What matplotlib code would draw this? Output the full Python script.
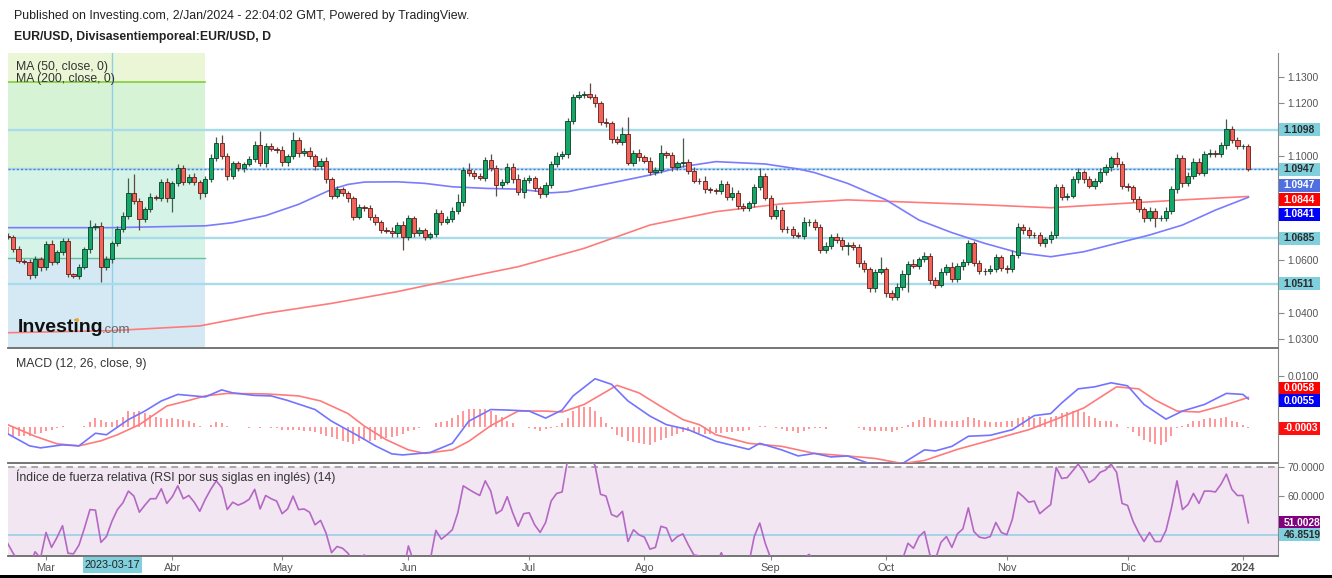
import numpy as np
import pandas as pd
import matplotlib
matplotlib.use('Agg')
import matplotlib.pyplot as plt
from matplotlib.patches import Rectangle, Ellipse

plt.rcParams['font.family'] = ['Liberation Sans', 'DejaVu Sans']

# ---------------- data ----------------
dates = pd.bdate_range('2023-02-20', '2024-01-02')
first_open = 1.0695
close = [
    1.0690, 1.0644, 1.0599, 1.0595, 1.0544, 1.0604, 1.0573, 1.0661, 1.0595, 1.0631,
    1.0675, 1.0547, 1.0540, 1.0576, 1.0642, 1.0729, 1.0731, 1.0573, 1.0604, 1.0665,
    1.0720, 1.0769, 1.0856, 1.0828, 1.0757, 1.0795, 1.0843, 1.0840, 1.0900, 1.0837,
    1.0894, 1.0951, 1.0900, 1.0920, 1.0898, 1.0858, 1.0909, 1.0990, 1.1047, 1.0998,
    1.0923, 1.0970, 1.0951, 1.0967, 1.0986, 1.1040, 1.0970, 1.1038, 1.1026, 1.1021,
    1.0974, 1.0998, 1.1060, 1.1009, 1.1018, 1.0998, 1.0960, 1.0979, 1.0909, 1.0847,
    1.0871, 1.0858, 1.0837, 1.0767, 1.0803, 1.0800, 1.0767, 1.0745, 1.0716, 1.0714,
    1.0703, 1.0735, 1.0688, 1.0761, 1.0703, 1.0716, 1.0691, 1.0700, 1.0782, 1.0748,
    1.0757, 1.0790, 1.0824, 1.0945, 1.0932, 1.0922, 1.0915, 1.0983, 1.0951, 1.0888,
    1.0900, 1.0958, 1.0909, 1.0862, 1.0907, 1.0913, 1.0875, 1.0853, 1.0888, 1.0968,
    1.1000, 1.1006, 1.1132, 1.1225, 1.1231, 1.1235, 1.1225, 1.1199, 1.1130, 1.1123,
    1.1062, 1.1053, 1.1082, 1.0973, 1.1011, 1.0993, 1.0981, 1.0939, 1.0945, 1.1009,
    1.1002, 1.0955, 1.0970, 1.0977, 1.0942, 1.0904, 1.0902, 1.0871, 1.0869, 1.0865,
    1.0890, 1.0843, 1.0859, 1.0808, 1.0799, 1.0818, 1.0879, 1.0922, 1.0839, 1.0771,
    1.0792, 1.0719, 1.0718, 1.0697, 1.0695, 1.0745, 1.0748, 1.0726, 1.0640, 1.0655,
    1.0688, 1.0678, 1.0655, 1.0660, 1.0652, 1.0589, 1.0566, 1.0493, 1.0557, 1.0566,
    1.0474, 1.0459, 1.0500, 1.0547, 1.0586, 1.0580, 1.0604, 1.0617, 1.0525, 1.0508,
    1.0557, 1.0573, 1.0528, 1.0579, 1.0595, 1.0665, 1.0589, 1.0561, 1.0560, 1.0566,
    1.0612, 1.0570, 1.0566, 1.0621, 1.0729, 1.0716, 1.0697, 1.0696, 1.0665, 1.0680,
    1.0697, 1.0879, 1.0843, 1.0847, 1.0909, 1.0936, 1.0909, 1.0885, 1.0904, 1.0939,
    1.0955, 1.0990, 1.0968, 1.0884, 1.0879, 1.0833, 1.0795, 1.0761, 1.0790, 1.0761,
    1.0761, 1.0790, 1.0871, 1.0990, 1.0894, 1.0922, 1.0977, 1.0935, 1.1006, 1.1011,
    1.1006, 1.1040, 1.1100, 1.1060, 1.1037, 1.1037, 1.0947,
]
upper_wick_pips = [
    10, 8, 12, 6, 10, 14, 10, 12, 15, 8,
    12, 10, 6, 10, 8, 25, 10, 15, 12, 10,
    12, 15, 57, 74, 12, 10, 14, 8, 12, 15,
    10, 18, 12, 10, 14, 10, 12, 15, 25, 31,
    12, 10, 8, 10, 12, 14, 55, 12, 10, 8,
    15, 10, 31, 12, 10, 14, 10, 12, 15, 10,
    12, 10, 8, 10, 12, 10, 10, 12, 8, 10,
    12, 10, 15, 14, 10, 12, 8, 10, 14, 10,
    12, 14, 30, 12, 25, 12, 10, 12, 25, 14,
    10, 12, 12, 21, 10, 12, 10, 8, 12, 10,
    12, 10, 10, 12, 14, 10, 41, 12, 10, 12,
    10, 12, 29, 67, 10, 14, 10, 12, 10, 31,
    10, 12, 10, 89, 10, 14, 10, 20, 10, 8,
    15, 12, 20, 10, 12, 10, 12, 29, 12, 10,
    20, 10, 12, 15, 12, 20, 10, 10, 12, 15,
    12, 18, 10, 10, 12, 10, 12, 10, 12, 48,
    10, 12, 14, 15, 12, 20, 10, 14, 12, 10,
    15, 12, 20, 10, 12, 12, 10, 12, 10, 15,
    12, 10, 14, 20, 12, 10, 12, 10, 14, 10,
    15, 12, 14, 10, 12, 15, 10, 12, 10, 14,
    12, 10, 25, 10, 12, 10, 12, 10, 14, 10,
    12, 14, 12, 15, 12, 14, 12, 15, 12, 14,
    10, 12, 40, 14, 10, 8, 8,
]
lower_wick_pips = [
    10, 12, 10, 8, 14, 10, 12, 10, 12, 10,
    10, 12, 8, 12, 10, 12, 12, 54, 10, 12,
    10, 12, 10, 12, 41, 10, 12, 8, 12, 15,
    51, 10, 12, 10, 12, 25, 15, 10, 12, 10,
    15, 12, 10, 12, 8, 12, 10, 14, 10, 12,
    14, 12, 10, 15, 12, 10, 14, 12, 15, 12,
    10, 12, 14, 12, 10, 12, 14, 10, 12, 10,
    14, 12, 48, 12, 14, 10, 12, 10, 12, 14,
    10, 12, 12, 16, 10, 12, 10, 12, 10, 43,
    12, 10, 14, 12, 25, 10, 12, 14, 10, 12,
    10, 12, 14, 12, 10, 12, 10, 14, 12, 12,
    14, 10, 12, 10, 14, 12, 10, 14, 12, 10,
    12, 14, 10, 12, 14, 10, 12, 15, 10, 12,
    10, 14, 12, 10, 12, 10, 14, 12, 10, 14,
    12, 10, 14, 12, 10, 12, 15, 10, 12, 10,
    12, 10, 14, 34, 12, 14, 10, 12, 14, 10,
    12, 10, 12, 14, 66, 10, 12, 10, 14, 12,
    10, 14, 12, 10, 14, 12, 10, 12, 14, 10,
    12, 10, 14, 10, 12, 14, 10, 12, 10, 12,
    14, 10, 12, 14, 10, 12, 14, 10, 12, 10,
    12, 14, 10, 12, 14, 10, 12, 14, 10, 32,
    12, 10, 14, 12, 14, 10, 12, 10, 14, 12,
    10, 12, 14, 10, 12, 10, 5,
]

# moving averages read at sample bars
ma50_idx = [0, 19, 36, 41, 47, 53, 59, 62, 65, 71, 76, 81, 87, 93, 99, 102, 105, 111, 117,
            123, 129, 132, 138, 144, 147, 153, 160, 166, 172, 178, 184, 190, 196, 202, 208,
            214, 220, 226]
ma50_val = [1.0725, 1.0725, 1.0732, 1.0744, 1.0771, 1.0814, 1.0871, 1.0890, 1.0899, 1.0900,
            1.0894, 1.0881, 1.0875, 1.0872, 1.0858, 1.0862, 1.0875, 1.0900, 1.0926, 1.0958,
            1.0977, 1.0974, 1.0968, 1.0949, 1.0935, 1.0894, 1.0831, 1.0754, 1.0706, 1.0665,
            1.0630, 1.0614, 1.0633, 1.0665, 1.0697, 1.0735, 1.0792, 1.0841]
ma200_idx = [0, 19, 35, 47, 59, 71, 81, 93, 105, 117, 129, 141, 153, 166, 178, 190, 202, 214, 226]
ma200_val = [1.0324, 1.0332, 1.0350, 1.0398, 1.0436, 1.0481, 1.0525, 1.0576, 1.0646, 1.0735,
             1.0786, 1.0816, 1.0831, 1.0821, 1.0812, 1.0801, 1.0816, 1.0831, 1.0844]

# MACD (values in 1e-4)
macd_idx = [0, 4, 6, 10, 13, 16, 18, 22, 25, 28, 31, 36, 39, 41, 45, 48, 51, 56, 59, 64, 67,
            70, 72, 77, 81, 84, 88, 91, 95, 98, 101, 103, 107, 110, 113, 117, 120, 124, 129,
            135, 137, 141, 144, 147, 150, 153, 157, 160, 163, 167, 169, 172, 175, 179, 183,
            187, 190, 192, 195, 198, 201, 204, 207, 211, 214, 218, 222, 225, 226]
macd_val = [-14, -38, -42, -36, -38, -13, -16, 14, 31, 51, 64, 59, 73, 67, 62, 61, 52, 34, 11,
            -19, -38, -54, -56, -51, -33, 11, 34, 33, 31, 17, 33, 61, 95, 84, 51, 21, 4, -6,
            -29, -45, -33, -46, -58, -53, -60, -58, -73, -73, -73, -46, -48, -39, -19, -17,
            -6, 22, 26, 47, 75, 79, 87, 81, 44, 15, 31, 44, 66, 64, 55]
signal_idx = [0, 5, 9, 13, 17, 20, 24, 29, 33, 36, 40, 47, 53, 57, 62, 65, 69, 73, 76, 81, 84,
              88, 93, 98, 101, 105, 111, 115, 119, 123, 126, 129, 135, 141, 147, 153, 158, 163,
              167, 173, 180, 186, 191, 196, 202, 206, 209, 213, 217, 222, 226]
signal_val = [4, -19, -34, -38, -28, -16, 4, 41, 52, 61, 66, 65, 61, 51, 26, 1, -26, -46, -53,
              -46, -29, 2, 31, 31, 29, 44, 82, 67, 40, 14, 4, -16, -33, -39, -53, -58, -63,
              -73, -67, -45, -24, -6, 15, 37, 79, 75, 53, 31, 29, 44, 58]
macd_hist = [
    -17, -18, -19, -19, -18, -15, -12, -9, -6, -3,
    1, 0, -1, 0, 2, 9, 17, 13, 9, 9,
    13, 20, 31, 29, 31, 27, 24, 20, 17, 15,
    17, 15, 13, 12, 7, 1, 0, 4, 9, 7,
    2, 0, 0, -1, -3, -1, -3, -1, -3, -3,
    -7, -7, -7, -7, -8, -9, -11, -15, -18, -21,
    -25, -28, -30, -35, -28, -27, -28, -27, -25, -23,
    -20, -18, -15, -9, -7, -3, 0, 0, 7, 9,
    12, 17, 24, 31, 35, 35, 35, 35, 31, 24,
    19, 12, 7, 0, -1, -3, -5, -8, -5, -3,
    2, 7, 17, 32, 42, 40, 39, 32, 19, 7,
    -5, -16, -21, -28, -31, -33, -35, -36, -31, -27,
    -23, -18, -15, -11, -9, -11, -13, -15, -15, -13,
    -13, -11, -11, -9, -8, -7, 0, 2, 2, 0,
    -3, -5, -8, -9, -13, -8, -5, -3, -3, -5,
    -1, 0, 0, -1, -1, -3, -7, -9, -9, -8,
    -9, -11, -7, -3, 4, 9, 13, 19, 17, 13,
    12, 12, 12, 11, 13, 19, 17, 13, 12, 9,
    9, 9, 12, 12, 17, 20, 22, 17, 19, 15,
    19, 22, 27, 29, 31, 31, 29, 22, 17, 12,
    11, 11, 5, 0, -3, -11, -18, -27, -31, -35,
    -36, -31, -18, -3, 2, 5, 12, 12, 15, 17,
    15, 17, 19, 12, 9, 4, -3,
]
rsi = [
    44.0, 40.6, 38.0, 38.5, 36.5, 41.1, 39.0, 47.7, 42.6, 46.0,
    50.0, 40.6, 40.4, 43.4, 49.2, 55.5, 55.3, 44.3, 46.3, 51.5,
    55.5, 57.8, 61.8, 60.1, 54.6, 57.0, 59.2, 59.2, 62.6, 57.6,
    59.9, 63.6, 59.2, 60.3, 58.0, 54.9, 59.0, 62.4, 65.3, 63.0,
    55.5, 58.0, 57.0, 57.8, 59.0, 62.4, 55.7, 60.3, 59.2, 58.4,
    54.1, 55.7, 60.1, 55.5, 55.7, 54.6, 50.3, 51.8, 47.5, 40.8,
    42.9, 42.3, 40.6, 37.5, 39.2, 40.0, 37.0, 35.5, 33.5, 33.5,
    33.0, 36.5, 33.5, 43.1, 37.5, 39.0, 37.0, 38.5, 48.4, 45.4,
    46.9, 48.6, 54.4, 63.6, 62.4, 61.3, 60.3, 65.3, 61.8, 54.1,
    55.3, 59.9, 54.4, 49.8, 54.1, 54.4, 50.3, 47.7, 51.1, 58.4,
    61.0, 61.5, 72.5, 77.5, 78.0, 77.5, 74.0, 70.5, 60.7, 60.1,
    53.8, 53.0, 54.9, 44.6, 48.6, 46.9, 46.1, 42.0, 42.6, 49.8,
    49.2, 44.6, 46.3, 47.2, 43.4, 40.0, 39.7, 37.0, 37.0, 36.5,
    40.8, 36.5, 38.5, 35.0, 34.5, 37.0, 46.3, 50.9, 44.0, 38.9,
    39.5, 35.0, 35.0, 33.5, 33.5, 39.0, 40.2, 38.0, 32.0, 33.5,
    37.0, 36.5, 35.0, 35.5, 35.0, 31.5, 30.5, 27.0, 34.0, 35.0,
    29.0, 28.5, 33.0, 38.5, 44.0, 42.3, 46.3, 48.0, 40.0, 38.5,
    44.3, 46.3, 42.6, 47.2, 48.9, 56.1, 48.0, 46.1, 45.7, 46.3,
    51.1, 47.7, 46.9, 52.1, 61.5, 59.9, 58.0, 58.4, 54.1, 55.7,
    57.2, 69.9, 66.1, 66.4, 68.7, 71.0, 68.4, 64.7, 65.9, 68.2,
    69.0, 71.0, 68.2, 57.6, 56.9, 51.5, 47.7, 44.6, 47.7, 44.6,
    44.6, 48.4, 56.1, 65.3, 55.5, 57.2, 61.0, 57.6, 61.8, 61.8,
    61.5, 64.1, 67.6, 62.4, 60.3, 60.3, 51.0,
]
month_labels = ['Mar', 'Abr', 'May', 'Jun', 'Jul', 'Ago', 'Sep', 'Oct', 'Nov', 'Dic', '2024']
hlines_price = [1.1098, 1.0947, 1.0685, 1.0511]
rsi_line_level = 46.8519

# ---------------- derived arrays ----------------
n = min(len(dates), len(close), len(upper_wick_pips), len(lower_wick_pips), len(rsi), len(macd_hist))
x = np.arange(n)
c = np.array(close[:n])
o = np.concatenate([[first_open], c[:-1]])
hi = np.maximum(o, c) + np.array(upper_wick_pips[:n]) * 1e-4
lo = np.minimum(o, c) - np.array(lower_wick_pips[:n]) * 1e-4
up = c >= o

d = dates[:n]
month_pos = [i for i in range(1, n) if d[i].month != d[i - 1].month]
cross_idx = list(d).index(pd.Timestamp('2023-03-17'))

# ---------------- figure ----------------
W, H = 1332, 578
fig = plt.figure(figsize=(W / 100, H / 100), dpi=100)
fig.patch.set_facecolor('white')

def add_ax(x0, y0, x1, y1):
    return fig.add_axes([x0 / W, 1 - y1 / H, (x1 - x0) / W, (y1 - y0) / H])

L, R = 8, 1278
axp = add_ax(L, 53, R, 348)
axm = add_ax(L, 348, R, 463)
axr = add_ax(L, 463, R, 556)

XL = (0.07, 231.4)
GRAY = '#555555'
for ax in (axp, axm, axr):
    ax.set_xlim(*XL)
    for s in ('top', 'left'):
        ax.spines[s].set_visible(False)
    ax.spines['right'].set_color('#8a8a8a')
    ax.spines['bottom'].set_color('#6a6a6a')
    ax.spines['bottom'].set_linewidth(1.3)
    ax.yaxis.tick_right()
    ax.tick_params(axis='y', direction='out', length=4, width=0.8, colors='#8a8a8a',
                   labelcolor=GRAY, labelsize=7.4, pad=3)
    ax.set_facecolor('none')

# ---- price panel ----
axp.set_ylim(1.02657, 1.13916)
shade_x1 = 35.95
bands = [(1.1281, 1.13916, '#eaf6d6'), (1.0947, 1.1281, '#d7f3d6'),
         (1.0609, 1.0947, '#d5f4e7'), (1.02657, 1.0609, '#d4e9f4')]
for y0, y1, col in bands:
    axp.add_patch(Rectangle((XL[0], y0), shade_x1 - XL[0], y1 - y0, facecolor=col,
                            edgecolor='none', zorder=0))
axp.plot([XL[0], shade_x1], [1.1281, 1.1281], color='#84cc3a', lw=1.2, zorder=1)
axp.plot([XL[0], shade_x1], [1.0609, 1.0609], color='#62c2a2', lw=1.0, zorder=1)
axp.axvline(cross_idx, color='#8fd0e6', lw=1.0, zorder=1)

for lvl in hlines_price:
    axp.axhline(lvl, color='#a8dcea', lw=1.7, zorder=1)
axp.axhline(c[-1], color='#5b78db', lw=1.0, ls=(0, (1.5, 1.5)), zorder=2)

axp.plot(ma200_idx, ma200_val, color='#ff7b7b', lw=1.2, zorder=2)
axp.plot(ma50_idx, ma50_val, color='#7b7bff', lw=1.2, zorder=2)

wick_col = np.where(up, '#3f5f4c', '#5e4a46')
axp.vlines(x, lo, hi, colors=wick_col, lw=0.9, zorder=3)
body_h = np.maximum(np.abs(c - o), 0.00012)
axp.bar(x[up], body_h[up], bottom=np.minimum(o, c)[up], width=0.78,
        color='#14a868', edgecolor='#0c3b24', linewidth=0.6, zorder=4)
axp.bar(x[~up], body_h[~up], bottom=np.minimum(o, c)[~up], width=0.78,
        color='#f2645a', edgecolor='#5e1b16', linewidth=0.6, zorder=4)

axp.set_yticks([1.03, 1.04, 1.06, 1.10, 1.12, 1.13])
axp.set_yticklabels(['1.0300', '1.0400', '1.0600', '1.1000', '1.1200', '1.1300'])
axp.set_yticks([1.1098, 1.0947, 1.0685, 1.0511], minor=True)
axp.tick_params(axis='y', which='minor', direction='out', length=4, width=0.8, colors='#8a8a8a')
axp.set_xticks([])

# ---- MACD panel ----
axm.set_ylim(-0.0072, 0.0156)
axm.vlines(x, 0, np.array(macd_hist[:n]) * 1e-4, colors='#ff7070', lw=1.2, alpha=0.85, zorder=2)
axm.plot(signal_idx, np.array(signal_val) * 1e-4, color='#ff7b7b', lw=1.2, zorder=3)
axm.plot(macd_idx, np.array(macd_val) * 1e-4, color='#7373ff', lw=1.2, zorder=3)
axm.set_yticks([0.01])
axm.set_yticklabels(['0.0100'])
axm.set_xticks([])

# ---- RSI panel ----
axr.set_ylim(39.66, 71.38)
axr.axhspan(30, 70, color='#f2e6f2', zorder=0)
axr.axhline(70, color='#9a9a9a', lw=1.2, ls=(0, (4, 3)), zorder=1)
axr.axhline(rsi_line_level, color='#9fd2e6', lw=1.3, zorder=1)
axr.plot(x, rsi[:n], color='#b468c4', lw=1.2, zorder=3)
axr.set_yticks([60, 70])
axr.set_yticklabels(['60.0000', '70.0000'])
axr.set_xticks(month_pos)
axr.set_xticklabels(month_labels[:len(month_pos)])
axr.tick_params(axis='x', length=3, width=0.8, colors='#8a8a8a', labelcolor=GRAY,
                labelsize=7.9, pad=2)
for lab in axr.get_xticklabels():
    if lab.get_text() == '2024':
        lab.set_fontweight('bold')

# ---------------- value boxes on the right ----------------
def value_box(ax, value, text, fc, tc, dy=0.0):
    _, ydisp = ax.transData.transform((XL[0], value))
    yc = H - ydisp + dy
    fig.add_artist(Rectangle((1279 / W, 1 - (yc + 6.5) / H), 41 / W, 13 / H,
                             transform=fig.transFigure, facecolor=fc, edgecolor='none', zorder=5))
    fig.text(1283.5 / W, 1 - yc / H, text, color=tc, fontsize=7.4, fontweight='bold',
             ha='left', va='center', zorder=6)

CY = '#80cfdc'
value_box(axp, 1.1098, '1.1098', CY, '#2b2b2b')
value_box(axp, 1.0947, '1.0947', CY, '#2b2b2b')
value_box(axp, c[-1], '1.0947', '#5070e2', 'white', dy=16)
value_box(axp, ma200_val[-1], '1.0844', '#ff0000', 'white', dy=3.5)
value_box(axp, ma50_val[-1], '1.0841', '#0000ff', 'white', dy=17)
value_box(axp, 1.0685, '1.0685', CY, '#2b2b2b')
value_box(axp, 1.0511, '1.0511', CY, '#2b2b2b')
value_box(axm, signal_val[-1] * 1e-4, '0.0058', '#ff0000', 'white', dy=-9)
value_box(axm, macd_val[-1] * 1e-4, '0.0055', '#0000ff', 'white', dy=2)
value_box(axm, macd_hist[-1] * 1e-4, '-0.0003', '#ff1010', 'white')
value_box(axr, rsi[-1] + 0.0028, '51.0028', '#800080', 'white')
value_box(axr, rsi_line_level, '46.8519', CY, '#2b2b2b')

# ---------------- texts ----------------
fig.text(14 / W, 1 - 16 / H, 'Published on Investing.com, 2/Jan/2024 - 22:04:02 GMT, Powered by TradingView.',
         fontsize=8.9, color='#222222', va='center', ha='left')
fig.text(14 / W, 1 - 37 / H, 'EUR/USD, Divisasentiemporeal:EUR/USD, D',
         fontsize=8.8, color='#222222', fontweight='bold', va='center', ha='left')
fig.text(16 / W, 1 - 67 / H, 'MA (50, close, 0)', fontsize=8.8, color='#333333', va='center')
fig.text(16 / W, 1 - 79 / H, 'MA (200, close, 0)', fontsize=8.8, color='#333333', va='center')
fig.text(16 / W, 1 - 364 / H, 'MACD (12, 26, close, 9)', fontsize=8.8, color='#333333', va='center')
fig.text(16 / W, 1 - 477 / H, 'Índice de fuerza relativa (RSI por sus siglas en inglés) (14)',
         fontsize=8.8, color='#333333', va='center')

# Investing.com logo
fig.text(18 / W, 1 - 328 / H, 'Investing', fontsize=14, fontweight='bold', color='#111111',
         va='center', ha='left', zorder=6)
fig.text(102 / W, 1 - 330 / H, '.com', fontsize=9.5, color='#666666', va='center', ha='left', zorder=6)
fig.add_artist(Ellipse((77 / W, 1 - 320 / H), 4 / W, 4 / H, transform=fig.transFigure,
                       facecolor='#f5a623', edgecolor='none', zorder=7))

# crosshair date label
fig.add_artist(Rectangle((83 / W, 1 - 573 / H), 59 / W, 16 / H, transform=fig.transFigure,
                         facecolor='#7fcfdc', edgecolor='none', zorder=5))
fig.text(112.5 / W, 1 - 565 / H, '2023-03-17', fontsize=7.8, color='#222222', ha='center',
         va='center', zorder=6)

# bottom black border
fig.add_artist(Rectangle((0, 0), 1, 3.5 / H, transform=fig.transFigure, facecolor='black',
                         edgecolor='none', zorder=8))

fig.savefig('out.png', dpi=100, facecolor='white')
